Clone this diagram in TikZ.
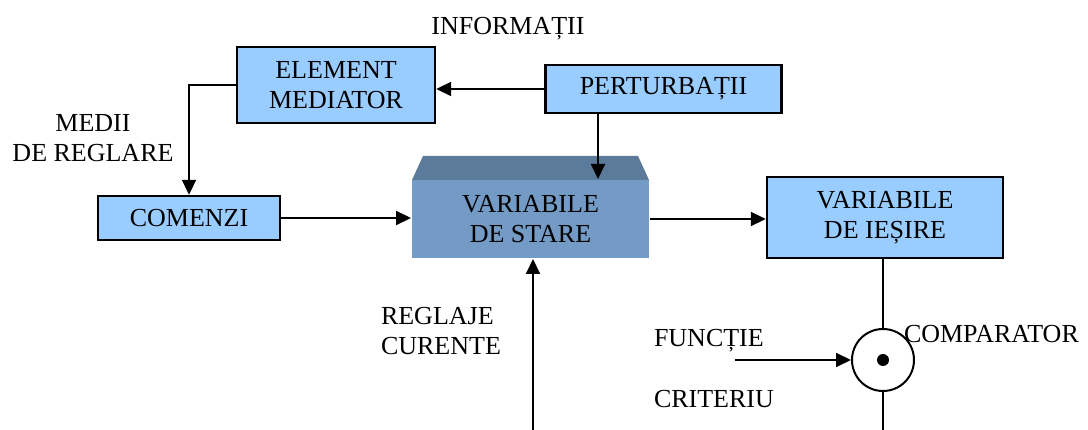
\documentclass[tikz,border=0pt]{standalone}
\usepackage{fontspec}
\setmainfont{Liberation Serif}
\usepackage{tikz}
\usetikzlibrary{arrows.meta, positioning}

\definecolor{boxblue}{RGB}{153,204,255}
\definecolor{stfront}{RGB}{115,155,198}
\definecolor{sttop}{RGB}{92,122,154}

\begin{document}
\begin{tikzpicture}[x=1pt, y=-1pt, ->, >={Triangle[length=15pt,width=14pt]}, line width=2pt,
        font=\fontsize{26}{30}\selectfont,
        blok/.style={draw, line width=2.4pt, fill=boxblue, inner sep=0pt, align=center},
        label/.style={inner sep=0pt, align=left}]
    \useasboundingbox (0,0) rectangle (1088,430);
    % blocuri
    \node[blok, minimum width=198, minimum height=76] (em) at (336,85) {ELEMENT\\MEDIATOR};
    \node[blok, minimum width=236, minimum height=48] (pert) at (663.5,89) {PERTURBAȚII};
    \node[blok, minimum width=182, minimum height=44] (comenzi) at (189,218) {COMENZI};
    \node[blok, minimum width=236, minimum height=81] (iesire) at (885,217.5) {VARIABILE\\DE IEȘIRE};
    \fill[sttop] (423,156) -- (638,156) -- (649,180) -- (412,180) -- cycle;
    \node[fill=stfront, inner sep=0pt, align=center, minimum width=237, minimum height=78] (stare) at (530.5,219) {VARIABILE\\DE STARE};
    \node[draw, circle, line width=2pt, minimum size=62, inner sep=0pt] (comp) at (883,360) {};
    \fill (comp) circle (6);
    % texte
    \node[label, anchor=base] (info) at (508,35) {INFORMAȚII};
    \node[label, anchor=base, align=center] (medii) at (93,162) {MEDII\\DE REGLARE};
    \node[label, anchor=base west] (regl) at (380,355) {REGLAJE\\CURENTE};
    \node[label, anchor=base west] (functie) at (653,347) {FUNCȚIE};
    \node[label, anchor=base west] (criteriu) at (653,408) {CRITERIU};
    \node[label, anchor=base west] (comparator) at (903,343) {COMPARATOR};
    \coordinate (crit) at (735,360);
    \coordinate (jos) at (883,430);
    \coordinate (reglaj) at (533,430);
    % legaturi
    \draw (pert.west) -- (pert.west -| em.east);
    \draw (em.west) -| (comenzi.north);
    \draw ([xshift=-65.5pt]pert.south) -- ([xshift=-65.5pt]pert.south |- stare.north);
    \draw (comenzi.east) -- (comenzi.east -| stare.west);
    \draw (stare.east) -- (stare.east -| iesire.west);
    \draw[-] (comp.north |- iesire.south) -- (comp.north);
    \draw[-] (comp.south) -- (jos);
    \draw (crit) -- (comp.west);
    \draw (reglaj) -- (reglaj |- stare.south);
\end{tikzpicture}
\end{document}
